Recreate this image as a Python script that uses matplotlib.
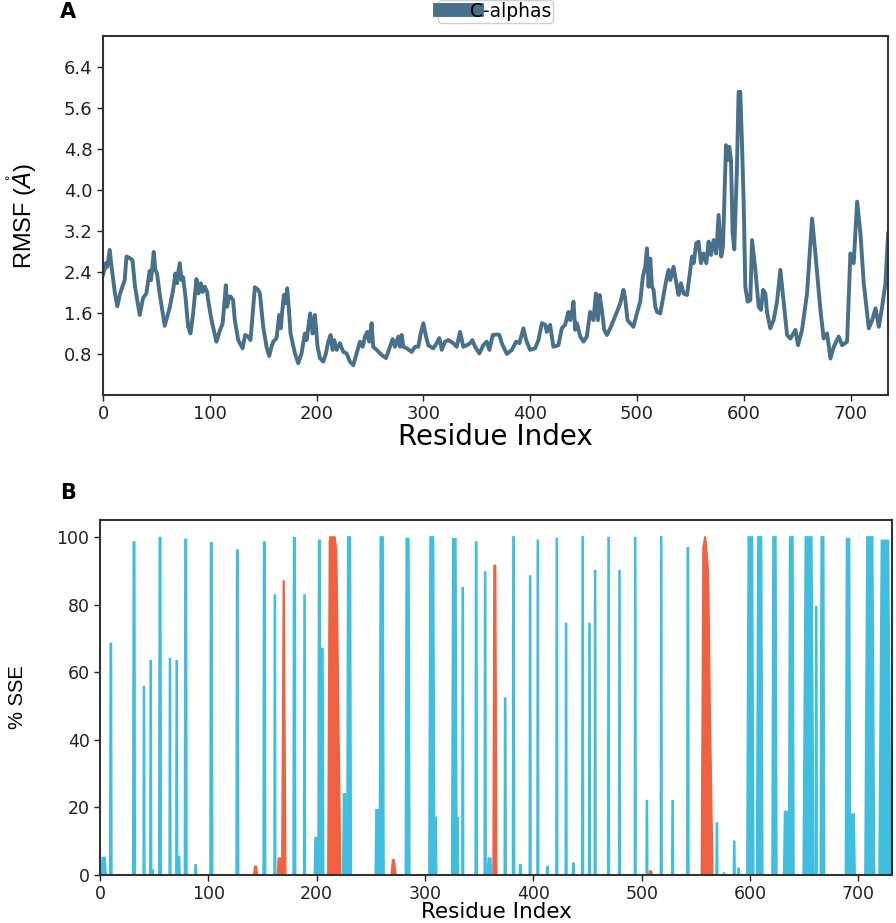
import matplotlib
matplotlib.use("Agg")
import matplotlib.pyplot as plt
from matplotlib.patches import Polygon

# ---------------- Data ----------------
rmsf_res = [0, 1.5, 2.6, 4, 6.3, 8, 11.2, 13.4, 16, 20.3, 22, 25, 27.6, 30, 34.4, 37.5, 40.6, 43.7, 45,
            47.5, 49, 50.6, 53, 57.8, 60, 62.5, 65.6, 67.8, 69.4, 70.3, 71.9, 73.5, 75, 77.2, 79.7, 81.9,
            84.4, 87.5, 89.4, 91.6, 93.4, 95.3, 97.5, 98.4, 101.6, 106.2, 107.8, 109.4, 112, 115, 116.2,
            118, 119.5, 121.8, 123.4, 126.6, 130.7, 133.1, 135.9, 138.1, 142.2, 145.3, 146.9, 150, 153.1,
            155.6, 157.8, 159.4, 162.5, 165, 166.5, 167.8, 169.4, 171, 172.5, 174, 175.6, 179.7, 182.8,
            185.9, 189, 190.6, 194, 196.2, 198.4, 200.9, 203.1, 206.2, 208.7, 210.9, 213.1, 215.0, 216.5,
            218.7, 221.8, 225, 228.1, 231.2, 234.3, 237.5, 240.6, 243.1, 245.3, 247.4, 249.3, 251.5, 253,
            256.2, 260.9, 265, 268.7, 271.2, 273.4, 276.5, 278.1, 279.7, 281.2, 284.4, 289, 292.1, 295.2,
            297.5, 300, 302.4, 304.6, 309.3, 312.5, 314.9, 317.2, 320.2, 323.3, 328, 331.2, 334.3, 337.4,
            340.6, 343.7, 345.8, 348.4, 352.4, 356.1, 359.3, 361.8, 364.9, 368.7, 371.1, 373.4, 378.1,
            382.8, 386.8, 389.9, 393.6, 396.2, 399.9, 404.6, 407.7, 410.9, 414, 415.6, 418.6, 421.7, 426.4,
            429.6, 432.7, 435.8, 437.4, 439, 440.5, 442.1, 443.7, 446.8, 449.9, 453, 456.1, 457.7, 459.2,
            461.5, 463.4, 464.9, 467.1, 469.3, 471.8, 474.9, 478.1, 481.2, 484.3, 487.3, 488.9, 491.1,
            493.6, 496.7, 499.9, 503, 505.5, 507.7, 509.3, 510.8, 512.4, 514, 515.5, 517.1, 518.7, 521.7,
            524.3, 527.4, 529.5, 531.1, 534.2, 537.4, 538.9, 541.1, 543.6, 546.8, 549.2, 551.5, 553, 555.5,
            557.6, 559.9, 562.3, 564.9, 567, 569.3, 571.7, 574.2, 576.4, 578.9, 580.5, 583.3, 584.8, 586.4,
            588, 589.5, 591.1, 593.6, 595.1, 596.7, 598.3, 599.8, 601.4, 603.6, 606.1, 607.7, 610.8, 613.9,
            616.1, 618, 620.2, 621.7, 624.8, 627.9, 631.1, 634.2, 637.3, 640.5, 643.6, 648.3, 650.8, 654.5,
            659.2, 663.9, 667, 671.7, 674.8, 678, 681.1, 684.2, 688.8, 692, 696.7, 699.8, 702.9, 706.1,
            709.2, 712.3, 717, 720.2, 723.3, 726.4, 729.5, 732.6, 735.1]
rmsf_val = [2.35, 2.45, 2.57, 2.5, 2.83, 2.50, 1.98, 1.73, 1.98, 2.24, 2.70, 2.67, 2.63, 2.11, 1.56, 1.89, 1.98,
            2.42, 2.24, 2.79, 2.44, 2.37, 1.98, 1.35, 1.52, 1.71, 2.04, 2.37, 2.18, 2.37, 2.57, 2.24, 2.30,
            1.92, 1.33, 1.20, 1.59, 2.26, 1.98, 2.18, 2.01, 2.11, 2.01, 1.85, 1.46, 1.04, 1.14, 1.26, 1.39,
            2.14, 1.72, 1.92, 1.92, 1.85, 1.46, 1.07, 0.91, 1.17, 1.14, 1.07, 2.10, 2.05, 1.98, 1.33, 0.94,
            0.76, 0.94, 1.04, 1.11, 1.56, 1.30, 1.63, 1.95, 1.79, 2.08, 1.69, 1.20, 0.81, 0.62, 0.81, 1.20,
            1.07, 1.59, 1.20, 1.56, 0.94, 0.72, 0.65, 0.81, 1.04, 1.17, 0.88, 1.07, 0.88, 1.01, 0.84, 0.81,
            0.65, 0.58, 0.81, 1.04, 0.94, 1.14, 1.23, 1.04, 1.40, 0.94, 0.88, 0.78, 0.72, 0.94, 1.09, 0.94,
            1.14, 0.94, 1.17, 0.94, 0.91, 0.84, 0.94, 0.94, 1.20, 1.40, 1.14, 0.97, 0.91, 1.01, 1.11, 0.88,
            1.04, 1.07, 1.01, 0.94, 1.23, 0.94, 0.97, 1.01, 1.07, 0.94, 0.81, 0.97, 1.04, 0.88, 1.17, 1.18,
            1.17, 1.01, 0.80, 0.88, 1.04, 1.01, 1.30, 1.07, 0.88, 0.91, 1.07, 1.40, 1.37, 1.23, 1.37, 0.94,
            0.97, 1.30, 1.37, 1.62, 1.46, 1.59, 1.82, 1.27, 1.40, 1.14, 1.04, 1.14, 1.62, 1.53, 1.46, 1.98,
            1.46, 1.95, 1.66, 1.27, 1.17, 1.30, 1.46, 1.62, 1.79, 2.05, 1.88, 1.46, 1.40, 1.33, 1.59, 1.82,
            2.31, 2.50, 2.86, 2.11, 2.66, 2.11, 2.05, 1.72, 1.62, 1.59, 1.88, 2.24, 2.44, 2.24, 2.50, 2.11,
            1.95, 2.18, 1.98, 1.95, 2.34, 2.70, 2.57, 2.96, 2.99, 2.57, 2.76, 2.57, 2.99, 2.73, 3.02, 2.76,
            3.51, 2.70, 2.89, 4.87, 4.58, 4.84, 4.58, 3.15, 2.84, 4.45, 5.91, 5.91, 4.90, 3.80, 2.11, 1.82,
            1.85, 3.02, 2.44, 1.72, 1.66, 2.05, 1.98, 1.62, 1.30, 1.46, 1.82, 2.44, 1.82, 1.17, 1.10, 1.27,
            0.97, 1.27, 1.98, 3.44, 2.76, 1.66, 1.10, 1.20, 0.71, 0.94, 1.14, 0.97, 1.04, 2.76, 2.57, 3.77,
            3.15, 2.18, 1.30, 1.46, 1.69, 1.33, 1.72, 2.18, 3.15]
rmsf_yticks = [0.8, 1.6, 2.4, 3.2, 4.0, 4.8, 5.6, 6.4]
res_xticks = [0, 100, 200, 300, 400, 500, 600, 700]
sse_yticks = [0, 20, 40, 60, 80, 100]

# Strand (blue) elements: start residue, end residue, % SSE
strand_start = [1.2, 9, 30.2, 39.8, 46, 47.5, 54.2, 63.8, 70, 71, 77.9, 87.3, 101.5, 125.6, 150.5, 160.6,
                178.2, 188, 197.8, 201.2, 203, 224, 227.8, 254, 257.8, 281.8, 303.5, 308.2, 324.6, 329,
                334, 346.2, 354.6, 357.5, 373.1, 380.7, 387, 396.2, 403.3, 412, 420.8, 429.4, 436, 444.7,
                451, 456.2, 468.6, 478.7, 493.2, 504, 517.2, 527.7, 541.6, 568.6, 575.3, 584.6, 588.6,
                597, 606, 620.2, 631, 635.5, 649, 660.3, 664.8, 688, 692.5, 706, 719]
strand_end = [5.6, 11, 32.6, 41.4, 47.6, 49.5, 56.6, 65.4, 71.6, 74, 80.3, 89.3, 104, 128, 152.9, 162.2,
              180.6, 189.6, 201.2, 203.8, 206.5, 227.6, 232, 257.5, 262.2, 286, 309, 310.8, 329.5, 331,
              335.6, 348.2, 356.4, 361.5, 374.9, 382.7, 389, 397.8, 404.9, 414, 422.4, 431, 438, 446.3,
              452.6, 457.8, 470.2, 480.3, 494.8, 505.6, 518.8, 529.3, 543.6, 570.2, 576.7, 586.2, 590.2,
              603.5, 611.8, 624.8, 635, 640.6, 659, 661.9, 668.8, 692.8, 697, 715, 730]
strand_pct = [5.2, 68.5, 98.5, 55.7, 63.4, 1.5, 99.8, 64, 63.4, 5.5, 99.3, 3, 98.3, 96.1, 98.5, 82.8,
              99.8, 82.8, 11, 99, 67, 24, 100, 19.3, 100, 99.5, 100, 17, 99.5, 17,
              85, 98.5, 89.6, 5, 52.3, 100, 3, 88.4, 99, 2.5, 99.5, 74.4, 3.5, 100,
              74.4, 90, 99.8, 90, 99.8, 22, 100, 22, 96.8, 15.4, 0.6, 10, 2,
              100, 100, 100, 18.8, 100, 100, 79.3, 100, 99.5, 18, 100, 99]

# Helix (red) profiles: residue / % SSE outline points, one list per helix
helix_res = [[141.8, 142.8, 144.5, 145.4],
             [163.8, 164.5, 167.8, 169.2, 170.0, 171.5],
             [210.2, 211.7, 212.3, 216.9, 218.5, 222.2],
             [268.7, 270.0, 271.5, 273.3],
             [362.7, 363.6, 365.2, 366.3],
             [506.5, 507.3, 509.0, 510.0],
             [555.0, 556.5, 558.3, 558.9, 560.1, 561.7, 562.6, 563.2, 564.8, 565.7]]
helix_pct = [[0, 2.6, 2.6, 0],
             [0, 5, 5, 87, 87, 0],
             [0, 98.7, 100, 100, 96, 0],
             [0, 4.5, 4.5, 0],
             [0, 91.6, 91.6, 0],
             [0, 1.2, 1.2, 0],
             [0, 97, 100, 100, 96, 89, 67, 50, 18, 0]]

# ---------------- Styling ----------------
line_col = "#47708b"
strand_col = "#3fbee0"
helix_col = "#ef6140"
spine_col = "#333333"
narrow = ["Liberation Sans Narrow", "Liberation Sans", "DejaVu Sans"]

fig = plt.figure(figsize=(8.96, 9.23), dpi=100)

# ---------- Panel A ----------
ax1 = fig.add_axes([103/896, (923-395)/923, (888-103)/896, (395-36)/923])
ax1.plot(rmsf_res, rmsf_val, color=line_col, lw=2.8, label="C-alphas", solid_joinstyle="round")
ax1.set_xlim(0, 735)
ax1.set_ylim(0, 7.0)
ax1.set_yticks(rmsf_yticks)
ax1.set_yticklabels([f"{v:.1f}" for v in rmsf_yticks])
ax1.set_xticks(res_xticks)
ax1.tick_params(labelsize=13, length=4, width=1, direction="out", colors="#222222")
ax1.set_xlabel("Residue Index", fontsize=20)
ax1.xaxis.set_label_coords(0.5, -0.078)
ax1.set_ylabel("RMSF ($\\mathring{A}$)", fontsize=17, family=narrow)
ax1.yaxis.set_label_coords(-0.082, 0.5)
for sp in ax1.spines.values():
    sp.set_color(spine_col)
    sp.set_linewidth(1.5)
leg = ax1.legend(loc="upper center", bbox_to_anchor=(0.5, 1.1), fontsize=13.5,
                 handlelength=2.0, handletextpad=-0.4, borderpad=0.1, borderaxespad=0,
                 framealpha=1, edgecolor="#d0d0d0", fancybox=True)
for h in leg.get_lines():
    h.set_linewidth(10)

# ---------- Panel B ----------
ax2 = fig.add_axes([100/896, (923-875)/923, (892-100)/896, (875-520)/923])
for s, e, h in zip(strand_start, strand_end, strand_pct):
    q = max(0.3, 0.2 * (e - s))
    ax2.add_patch(Polygon([(s, 0), (s + q, h), (e - q, h), (e, 0)], closed=True,
                          facecolor=strand_col, edgecolor=strand_col, lw=1.1))
for xs, ys in zip(helix_res, helix_pct):
    ax2.fill(xs, ys, facecolor=helix_col, edgecolor=helix_col, lw=1.0)
ax2.set_xlim(0, 731)
ax2.set_ylim(0, 105)
ax2.set_yticks(sse_yticks)
ax2.set_xticks(res_xticks)
ax2.tick_params(labelsize=12.5, length=4, width=1, direction="out", colors="#222222")
ax2.set_xlabel("Residue Index", fontsize=15.5)
ax2.xaxis.set_label_coords(0.5, -0.076)
ax2.set_ylabel("% SSE", fontsize=14.5, family=narrow)
ax2.yaxis.set_label_coords(-0.092, 0.5)
for sp in ax2.spines.values():
    sp.set_color(spine_col)
    sp.set_linewidth(1.5)

# panel letters
fig.text(68/896, 1 - 12/923, "A", fontsize=15, fontweight="bold", ha="center", va="center")
fig.text(68/896, 1 - 493/923, "B", fontsize=15, fontweight="bold", ha="center", va="center")

fig.savefig("out.png", dpi=100)
